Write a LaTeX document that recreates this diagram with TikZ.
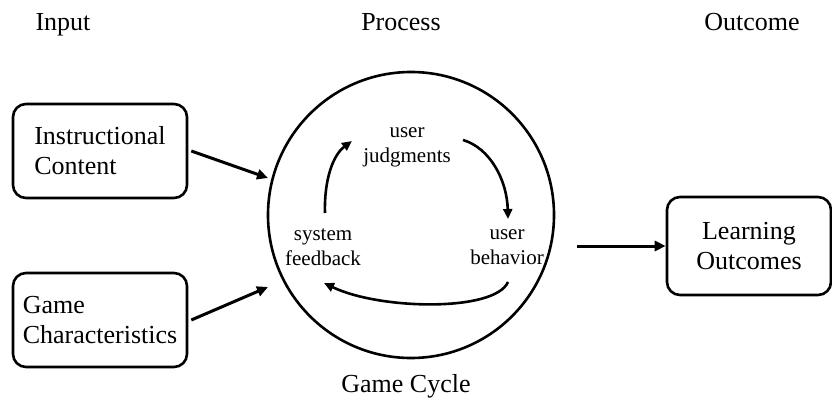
\documentclass[tikz,border=0pt]{standalone}
\usepackage{fontspec}
\setmainfont{Liberation Serif}
\usetikzlibrary{arrows.meta}
\begin{document}
\begin{tikzpicture}[x=1pt,y=-1pt,
  big/.style={font=\fontsize{26}{30}\selectfont},
  small/.style={font=\fontsize{21}{25}\selectfont, align=center},
  boxnode/.style={draw, line width=2.6pt, rounded corners=13pt, minimum width=174pt, minimum height=94pt, inner sep=0pt, big, align=left},
  arr/.style={line width=3pt, -{Triangle[length=11pt,width=10pt]}},
  inarr/.style={line width=2.6pt, -{Triangle[length=10pt,width=9pt]}}
]
\useasboundingbox (0,0) rectangle (832,409);
\node[big, anchor=base] (hin) at (63,31) {Input};
\node[big, anchor=base] (hpr) at (401,31) {Process};
\node[big, anchor=base] (hout) at (752,31) {Outcome};

\node[boxnode] (ic) at (100,151) {Instructional\\Content};
\node[boxnode] (gc) at (100,320) {Game\\Characteristics};
\node[boxnode, align=center, minimum width=164pt, minimum height=98pt] (lo) at (749,246) {Learning\\Outcomes};

\node[draw, circle, line width=2.6pt, minimum size=286pt, inner sep=0pt] (cyc) at (411,215) {};
\node[big, anchor=base] (gcy) at (406,392) {Game Cycle};

\node[small] (uj) at (407,147) {user\\judgments};
\node[small] (sf) at (323,247) {system\\feedback};
\node[small] (ub) at (507,247) {user\\behavior};

\coordinate (t1) at (268,178);
\coordinate (t2) at (268,287);
\draw[arr] (ic.east) ++(3,0) -- (t1);
\draw[arr] (gc.east) ++(3,0) -- (t2);
\draw[arr] (cyc.east) ++(22,31) -- (lo.west);

\coordinate (a1s) at (325,213);
\coordinate (a1e) at (352,141);
\draw[inarr] (a1s) .. controls (324,180) and (333,155) .. (a1e);
\coordinate (a2s) at (463,140);
\coordinate (a2e) at (508,219);
\draw[inarr] (a2s) .. controls (490,148) and (507,180) .. (a2e);
\coordinate (a3s) at (508,282);
\coordinate (a3e) at (324,283);
\draw[inarr] (a3s) .. controls (495,312) and (380,310) .. (a3e);
\end{tikzpicture}
\end{document}
